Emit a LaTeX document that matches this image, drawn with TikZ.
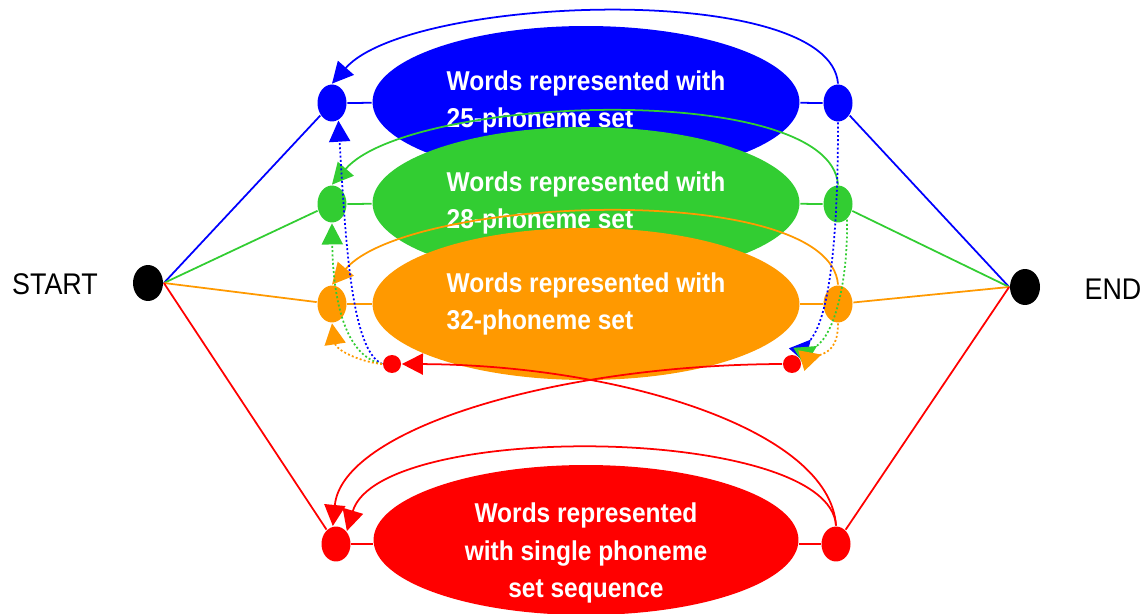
\documentclass[tikz,border=0pt]{standalone}
\usepackage{fontspec}
\setmainfont{Liberation Sans}
\newfontfamily\setfont{Liberation Sans}[FakeStretch=0.9]
\usetikzlibrary{arrows.meta,shapes.geometric}

\definecolor{pblue}{RGB}{0,0,255}
\definecolor{pgreen}{RGB}{50,205,50}
\definecolor{porange}{RGB}{255,153,0}
\definecolor{pred}{RGB}{255,0,0}

\begin{document}
\begin{tikzpicture}
        [x=0.02cm,y=-0.02cm,line width=1pt,
         wset/.style={ellipse,fill=#1,text=white,inner sep=0,minimum width=8.54cm,minimum height=3.04cm,
                      font=\setfont\bfseries\fontsize{15.5}{21.5}\selectfont},
         port/.style={ellipse,fill=#1,inner sep=0,minimum width=0.58cm,minimum height=0.74cm},
         hub/.style={circle,fill=pred,inner sep=0,minimum size=0.36cm},
         term/.style={ellipse,fill=black,inner sep=0,minimum width=0.6cm,minimum height=0.72cm},
         arr/.style={-{Triangle[length=12pt,width=12pt]}},
         rarr/.style={-{Triangle[length=12pt,width=12pt,reversed]}},
         hop/.style={dash pattern=on 1.1pt off 1.3pt}]

        \useasboundingbox (0,0) rectangle (1145,614);

        % word sets
        \node[wset=pblue,align=left] (b) at (586,102) {Words represented with\\25-phoneme set};
        \node[wset=pgreen,align=left] (g) at (586,203) {Words represented with\\28-phoneme set};
        \node[wset=porange,align=left] (o) at (586,304) {Words represented with\\32-phoneme set};
        \node[wset=pred,minimum width=8.5cm,minimum height=3cm] (r) at (586,540) {};
        \node[text=white,align=center,font=\setfont\bfseries\fontsize{15.5}{21.5}\selectfont] (rtext) at (586,553)
              {Words represented\\with single phoneme\\set sequence};

        % entry and exit states
        \node[port=pblue] (bl) at (332,103) {};
        \node[port=pblue] (br) at (838,103) {};
        \node[port=pgreen] (gl) at (332,204) {};
        \node[port=pgreen] (gr) at (838,204) {};
        \node[port=porange] (ol) at (332,304) {};
        \node[port=porange] (or) at (838,304) {};
        \node[port=pred,minimum height=0.7cm] (rl) at (336,544) {};
        \node[port=pred,minimum height=0.7cm] (rr) at (836,544) {};
        \node[hub] (dl) at (392,364) {};
        \node[hub] (dr) at (792,364) {};

        \node[term] (start) at (148,283) {};
        \node[term] (fin) at (1025,287) {};
        \node[font=\setfont\fontsize{17}{18}\selectfont] (lstart) at (55,284) {START};
        \node[font=\setfont\fontsize{17}{18}\selectfont] (lfin) at (1113,289) {END};

        \draw[pblue] (start.east) -- (bl);
        \draw[pgreen] (start.east) -- (gl);
        \draw[porange] (start.east) -- (ol);
        \draw[pred] (start.east) -- (rl);
        \draw[pblue] (br) -- (fin.west);
        \draw[pgreen] (gr) -- (fin.west);
        \draw[porange] (or) -- (fin.west);
        \draw[pred] (rr) -- (fin.west);

        \draw[pblue] (bl) -- (b) -- (br);
        \draw[pgreen] (gl) -- (g) -- (gr);
        \draw[porange] (ol) -- (o) -- (or);
        \draw[pred] (rl) -- (rl -| r.west);
        \draw[pred] (rr) -- (rr -| r.east);

        % loops inside each set
        \draw[pblue,arr] (br.north) .. controls (830,-20) and (410,-5) .. (bl.north);
        \draw[pgreen,arr] (gr.north) .. controls (830,80) and (410,95) .. (gl.north);
        \draw[porange,arr] (or.north) .. controls (830,180) and (410,195) .. (ol.north);
        \draw[pred,arr] (rr.north) .. controls (830,425) and (380,420) .. (rl.north east);

        % switching between sets
        \draw[pblue,hop,rarr] (br.south) .. controls (838,250) and (828,320) .. (dr.60);
        \draw[pgreen,hop,rarr] (gr.-60) .. controls (848,280) and (835,335) .. (dr.north east);
        \draw[porange,hop,rarr] (or.south) .. controls (838,345) and (830,352) .. (dr.20);
        \draw[pblue,hop,arr] (dl.west) .. controls (352,350) and (346,250) .. (bl.-70);
        \draw[pgreen,hop,arr] (dl.west) .. controls (345,356) and (333,300) .. (gl.south);
        \draw[porange,hop,arr] (dl.west) .. controls (360,362) and (336,350) .. (ol.south);
        \draw[pred,arr] (rr.north) .. controls (830,430) and (620,365) .. (dl.east);
        \draw[pred,arr] (dr.west) .. controls (552,365) and (342,430) .. (rl.100);

      \end{tikzpicture}
\end{document}
